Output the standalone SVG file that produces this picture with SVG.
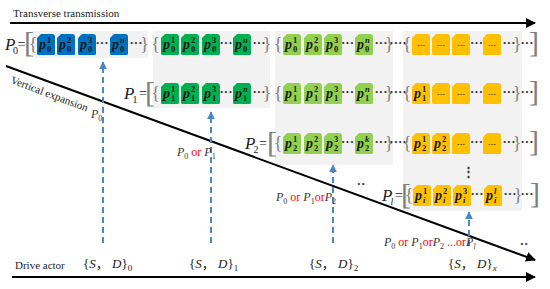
<svg xmlns="http://www.w3.org/2000/svg" xmlns:xlink="http://www.w3.org/1999/xlink" width="550" height="289" viewBox="0 0 550 289">
<style>
.bg{fill:#f2f2f2}
.blue{fill:#0070c0}
.dg{fill:#00b050}
.lg{fill:#92d050}
.yl{fill:#ffc000}
.bx{font-family:"Liberation Serif",serif;font-weight:bold;font-style:italic;fill:#1a1a1a;font-size:14px}
.sp{font-family:"Liberation Serif",serif;font-weight:bold;fill:#1a1a1a;font-size:8.5px}
.dash{font-family:"Liberation Sans",sans-serif;fill:#333;font-size:8px;text-anchor:middle}
.el{font-family:"Liberation Serif",serif;font-weight:bold;fill:#333;font-size:13px;text-anchor:middle}
.br{font-family:"Liberation Serif",serif;fill:#7f7f7f;font-size:18px;text-anchor:middle}
.bb{font-family:"Liberation Serif",serif;fill:#7f7f7f;font-size:30px;text-anchor:middle}
.P{font-family:"Liberation Serif",serif;font-style:italic;fill:#222;font-size:17px}
.s{font-family:"Liberation Serif",serif;fill:#222;font-size:10px}
.eq{font-family:"Liberation Serif",serif;fill:#222;font-size:14px}
.lab{font-family:"Liberation Serif",serif;fill:#222;font-size:11px}
.lp{font-family:"Liberation Serif",serif;font-style:italic;fill:#333;font-size:12px}
.ls{font-style:normal;font-size:8px}
.red{fill:#ff0000;font-style:normal}
.sd{font-family:"Liberation Serif","Noto Sans CJK SC",serif;fill:#222;font-size:13px}
.it{font-style:italic}
.ax{stroke:#000;stroke-width:2;fill:none}
.da{stroke:#4a86c8;stroke-width:2;stroke-dasharray:6 4;fill:none}
</style>
<defs>
<path id="b" d="M4,0 H15 Q18,0 18,3 V19.5 Q18,21 16.5,21 H1.5 Q0,21 0,19.5 V4 Z"/>
<marker id="ah" viewBox="0 0 10 10" refX="9" refY="5" markerWidth="5" markerHeight="5" orient="auto"><path d="M0,0 L10,5 L0,10 Z" fill="#000"/></marker>
<marker id="bh" viewBox="0 0 10 10" refX="9" refY="5" markerWidth="4" markerHeight="4" orient="auto"><path d="M0,0 L10,5 L0,10 Z" fill="#4a86c8"/></marker>
</defs>

<rect class="bg" x="32" y="31" width="116" height="27"/>
<rect class="bg" x="153" y="31" width="117" height="77"/>
<rect class="bg" x="275" y="31" width="118" height="134"/>
<rect class="bg" x="403" y="31" width="119" height="180"/>

<g id="title">
<text class="lab" x="13" y="17">Transverse transmission</text>
<text class="lab" x="15" y="269">Drive actor</text>
<text class="lab" transform="translate(10,83) rotate(20.5)">Vertical expansion</text>
</g>

<g id="connectors">
<line class="ax" x1="10" y1="23" x2="535" y2="23" marker-end="url(#ah)"/>
<line class="ax" x1="12" y1="277" x2="535" y2="277" marker-end="url(#ah)"/>
<line class="ax" x1="6" y1="66" x2="535" y2="260" marker-end="url(#ah)"/>
<line class="da" x1="103" y1="243" x2="103" y2="62" marker-end="url(#bh)"/>
<line class="da" x1="211" y1="243" x2="211" y2="112" marker-end="url(#bh)"/>
<line class="da" x1="333" y1="243" x2="333" y2="165" marker-end="url(#bh)"/>
<line class="da" x1="469" y1="246" x2="469" y2="212" marker-end="url(#bh)"/>
</g>

<!-- Row 0 -->
<g id="row0">
<text class="P" x="5" y="50" font-size="16">P</text><text class="s" x="13" y="54">0</text><text class="eq" x="17.5" y="49">=</text>
<text class="bb" x="29" y="52">[</text>
<text class="br" x="33" y="50">{</text>
<g id="r0c1">
<use xlink:href="#b" x="37" y="34" class="blue"/><use xlink:href="#b" x="57" y="34" class="blue"/><use xlink:href="#b" x="78" y="34" class="blue"/><use xlink:href="#b" x="110" y="34" class="blue"/>
<text class="bx" x="39" y="48.5">p</text><text class="sp" x="47" y="43">1</text><text class="sp" x="47" y="51.5">0</text>
<text class="bx" x="59" y="48.5">p</text><text class="sp" x="67" y="43">2</text><text class="sp" x="67" y="51.5">0</text>
<text class="bx" x="80" y="48.5">p</text><text class="sp" x="88" y="43">3</text><text class="sp" x="88" y="51.5">0</text>
<text class="bx" x="112" y="48.5">p</text><text class="sp it" x="120" y="43">n</text><text class="sp" x="120" y="51.5">0</text>
<text class="el" x="102" y="47">···</text><text class="el" x="136" y="47">···</text>
<text class="br" x="144.5" y="50">}</text>
</g>
<g id="r0c2">
<text class="br" x="155.5" y="50">{</text>
<use xlink:href="#b" x="161" y="34" class="dg"/><use xlink:href="#b" x="181" y="34" class="dg"/><use xlink:href="#b" x="202" y="34" class="dg"/><use xlink:href="#b" x="233" y="34" class="dg"/>
<text class="bx" x="163" y="48.5">p</text><text class="sp" x="171" y="43">1</text><text class="sp" x="171" y="51.5">0</text>
<text class="bx" x="183" y="48.5">p</text><text class="sp" x="191" y="43">2</text><text class="sp" x="191" y="51.5">0</text>
<text class="bx" x="204" y="48.5">p</text><text class="sp" x="212" y="43">3</text><text class="sp" x="212" y="51.5">0</text>
<text class="bx" x="235" y="48.5">p</text><text class="sp it" x="243" y="43">n</text><text class="sp" x="243" y="51.5">0</text>
<text class="el" x="226" y="47">···</text><text class="el" x="259" y="47">···</text>
<text class="br" x="267" y="50">}</text>
</g>
<g id="r0c3">
<text class="br" x="278" y="50">{</text>
<use xlink:href="#b" x="283" y="34" class="lg"/><use xlink:href="#b" x="304" y="34" class="lg"/><use xlink:href="#b" x="324" y="34" class="lg"/><use xlink:href="#b" x="355" y="34" class="lg"/>
<text class="bx" x="285" y="48.5">p</text><text class="sp" x="293" y="43">1</text><text class="sp" x="293" y="51.5">0</text>
<text class="bx" x="306" y="48.5">p</text><text class="sp" x="314" y="43">2</text><text class="sp" x="314" y="51.5">0</text>
<text class="bx" x="326" y="48.5">p</text><text class="sp" x="334" y="43">3</text><text class="sp" x="334" y="51.5">0</text>
<text class="bx" x="357" y="48.5">p</text><text class="sp it" x="365" y="43">n</text><text class="sp" x="365" y="51.5">0</text>
<text class="el" x="347.5" y="47">···</text><text class="el" x="381" y="47">···</text>
<text class="br" x="389" y="50">}</text>
<text class="el" x="398" y="47">····</text>
</g>
<g id="r0c4">
<text class="br" x="407" y="50">{</text>
<use xlink:href="#b" x="412" y="34" class="yl"/><use xlink:href="#b" x="432" y="34" class="yl"/><use xlink:href="#b" x="452" y="34" class="yl"/><use xlink:href="#b" x="483" y="34" class="yl"/>
<text class="dash" x="421" y="47">---</text><text class="dash" x="441" y="47">---</text><text class="dash" x="461" y="47">---</text><text class="dash" x="492" y="47">---</text>
<text class="el" x="476.5" y="47">···</text><text class="el" x="509" y="47">···</text>
<text class="br" x="517" y="50">}</text>
<text class="el" x="527" y="47">···</text>
<text class="bb" x="534" y="52">]</text>
</g>
</g>

<!-- Row 1 -->
<g id="row1">
<text class="P" x="124" y="99">P</text><text class="s" x="132.5" y="103">1</text><text class="eq" x="139" y="98">=</text>
<text class="bb" x="150" y="102">[</text>
<g id="r1c2">
<text class="br" x="155.5" y="99">{</text>
<use xlink:href="#b" x="161" y="83" class="dg"/><use xlink:href="#b" x="181" y="83" class="dg"/><use xlink:href="#b" x="202" y="83" class="dg"/><use xlink:href="#b" x="233" y="83" class="dg"/>
<text class="bx" x="163" y="97.5">p</text><text class="sp" x="171" y="92">1</text><text class="sp" x="171" y="100.5">1</text>
<text class="bx" x="183" y="97.5">p</text><text class="sp" x="191" y="92">2</text><text class="sp" x="191" y="100.5">1</text>
<text class="bx" x="204" y="97.5">p</text><text class="sp" x="212" y="92">3</text><text class="sp" x="212" y="100.5">1</text>
<text class="bx" x="235" y="97.5">p</text><text class="sp it" x="243" y="92">n</text><text class="sp" x="243" y="100.5">1</text>
<text class="el" x="226" y="96">···</text><text class="el" x="259" y="96">···</text>
<text class="br" x="267" y="99">}</text>
</g>
<g id="r1c3">
<text class="br" x="278" y="99">{</text>
<use xlink:href="#b" x="283" y="83" class="lg"/><use xlink:href="#b" x="304" y="83" class="lg"/><use xlink:href="#b" x="324" y="83" class="lg"/><use xlink:href="#b" x="355" y="83" class="lg"/>
<text class="bx" x="285" y="97.5">p</text><text class="sp" x="293" y="92">1</text><text class="sp" x="293" y="100.5">1</text>
<text class="bx" x="306" y="97.5">p</text><text class="sp" x="314" y="92">2</text><text class="sp" x="314" y="100.5">1</text>
<text class="bx" x="326" y="97.5">p</text><text class="sp" x="334" y="92">3</text><text class="sp" x="334" y="100.5">1</text>
<text class="bx" x="357" y="97.5">p</text><text class="sp it" x="365" y="92">n</text><text class="sp" x="365" y="100.5">1</text>
<text class="el" x="347.5" y="96">···</text><text class="el" x="381" y="96">···</text>
<text class="br" x="389" y="99">}</text>
<text class="el" x="398" y="96">····</text>
</g>
<g id="r1c4">
<text class="br" x="407" y="99">{</text>
<use xlink:href="#b" x="412" y="83" class="yl"/><use xlink:href="#b" x="432" y="83" class="yl"/><use xlink:href="#b" x="452" y="83" class="yl"/><use xlink:href="#b" x="483" y="83" class="yl"/>
<text class="bx" x="414" y="97.5">p</text><text class="sp" x="422" y="92">1</text><text class="sp" x="422" y="100.5">1</text>
<text class="dash" x="441" y="96">---</text><text class="dash" x="461" y="96">---</text><text class="dash" x="492" y="96">---</text>
<text class="el" x="476.5" y="96">···</text><text class="el" x="509" y="96">···</text>
<text class="br" x="517" y="99">}</text>
<text class="el" x="527" y="96">···</text>
<text class="bb" x="534" y="101">]</text>
</g>
</g>

<!-- Row 2 -->
<g id="row2">
<text class="P" x="245" y="149">P</text><text class="s" x="253.5" y="153">2</text><text class="eq" x="259" y="148">=</text>
<text class="bb" x="272" y="152">[</text>
<g id="r2c3">
<text class="br" x="278" y="149">{</text>
<use xlink:href="#b" x="283" y="133" class="lg"/><use xlink:href="#b" x="304" y="133" class="lg"/><use xlink:href="#b" x="324" y="133" class="lg"/><use xlink:href="#b" x="355" y="133" class="lg"/>
<text class="bx" x="285" y="147.5" font-weight="normal" fill="#4d4d4d">p</text><text class="sp" x="293" y="142" font-weight="normal" fill="#4d4d4d">1</text><text class="sp" x="293" y="150.5" font-weight="normal" fill="#4d4d4d">2</text>
<text class="bx" x="306" y="147.5">p</text><text class="sp" x="314" y="142">2</text><text class="sp" x="314" y="150.5">2</text>
<text class="bx" x="326" y="147.5">p</text><text class="sp" x="334" y="142">3</text><text class="sp" x="334" y="150.5">2</text>
<text class="bx" x="357" y="147.5">p</text><text class="sp it" x="365" y="142">k</text><text class="sp" x="365" y="150.5">2</text>
<text class="el" x="347.5" y="146">···</text><text class="el" x="381" y="146">···</text>
<text class="br" x="389" y="149">}</text>
<text class="el" x="398" y="146">····</text>
</g>
<g id="r2c4">
<text class="br" x="407" y="149">{</text>
<use xlink:href="#b" x="412" y="133" class="yl"/><use xlink:href="#b" x="432" y="133" class="yl"/><use xlink:href="#b" x="452" y="133" class="yl"/><use xlink:href="#b" x="483" y="133" class="yl"/>
<text class="bx" x="414" y="147.5">p</text><text class="sp" x="422" y="142">1</text><text class="sp" x="422" y="150.5">2</text>
<text class="bx" x="434" y="147.5">p</text><text class="sp" x="442" y="142">2</text><text class="sp" x="442" y="150.5">2</text>
<text class="dash" x="461" y="146">---</text><text class="dash" x="492" y="146">---</text>
<text class="el" x="476.5" y="146">···</text><text class="el" x="509" y="146">···</text>
<text class="br" x="517" y="149">}</text>
<text class="el" x="527" y="146">···</text>
<text class="bb" x="534" y="151">]</text>
</g>
<text class="el" x="468" y="176">⋮</text>
</g>

<!-- Row l -->
<g id="rowl">
<text class="P" x="382" y="201">P</text><text class="s it" x="390.5" y="205">l</text><text class="eq" x="395" y="200">=</text>
<text class="bb" x="406" y="204">[</text>
<g id="rlc4">
<text class="br" x="409" y="201">{</text>
<use xlink:href="#b" x="413" y="185" class="yl"/><use xlink:href="#b" x="433" y="185" class="yl"/><use xlink:href="#b" x="453" y="185" class="yl"/><use xlink:href="#b" x="484" y="185" class="yl"/>
<text class="bx" x="415" y="199.5">p</text><text class="sp" x="423" y="194">1</text><text class="sp it" x="423" y="202.5">i</text>
<text class="bx" x="435" y="199.5">p</text><text class="sp" x="443" y="194">2</text><text class="sp it" x="443" y="202.5">i</text>
<text class="bx" x="455" y="199.5">p</text><text class="sp" x="463" y="194">3</text><text class="sp it" x="463" y="202.5">i</text>
<text class="bx" x="486" y="199.5">p</text><text class="sp it" x="494" y="194">l</text><text class="sp it" x="494" y="202.5">i</text>
<text class="el" x="477" y="198">···</text><text class="el" x="510" y="198">···</text>
<text class="br" x="518" y="201">}</text>
<text class="el" x="527" y="198">···</text>
<text class="bb" x="535" y="203">]</text>
</g>
</g>

<g id="labels">
<text class="lp" x="91" y="118">P<tspan class="ls" dy="3">0</tspan></text>
<text class="lp" x="177" y="156">P<tspan class="ls" dy="3">0</tspan><tspan class="red" dy="-3"> or</tspan> P<tspan class="ls" dy="3">1</tspan></text>
<text class="lp" x="276" y="201">P<tspan class="ls" dy="3">0</tspan><tspan class="red" dy="-3"> or</tspan> P<tspan class="ls" dy="3">1</tspan><tspan class="red" dy="-3">or</tspan>P<tspan class="ls" dy="3">2</tspan></text>
<text class="lp" x="384" y="246">P<tspan class="ls" dy="3">0</tspan><tspan class="red" dy="-3"> or</tspan> P<tspan class="ls" dy="3">1</tspan><tspan class="red" dy="-3">or</tspan>P<tspan class="ls" dy="3">2</tspan><tspan class="red" dy="-3"> ...or</tspan>P<tspan class="ls it" dy="3">l</tspan></text>
<text class="el" x="361" y="188">··</text>
<text class="el" x="524" y="248">··</text>
</g>

<g id="actors">
<text class="sd" x="83" y="268">{<tspan class="it">S</tspan>， <tspan class="it">D</tspan>}<tspan font-size="9" dy="3">0</tspan></text>
<text class="sd" x="189" y="268">{<tspan class="it">S</tspan>， <tspan class="it">D</tspan>}<tspan font-size="9" dy="3">1</tspan></text>
<text class="sd" x="309" y="268">{<tspan class="it">S</tspan>， <tspan class="it">D</tspan>}<tspan font-size="9" dy="3">2</tspan></text>
<text class="sd" x="448" y="268">{<tspan class="it">S</tspan>， <tspan class="it">D</tspan>}<tspan font-size="9" class="it" dy="3">x</tspan></text>
</g>
</svg>
